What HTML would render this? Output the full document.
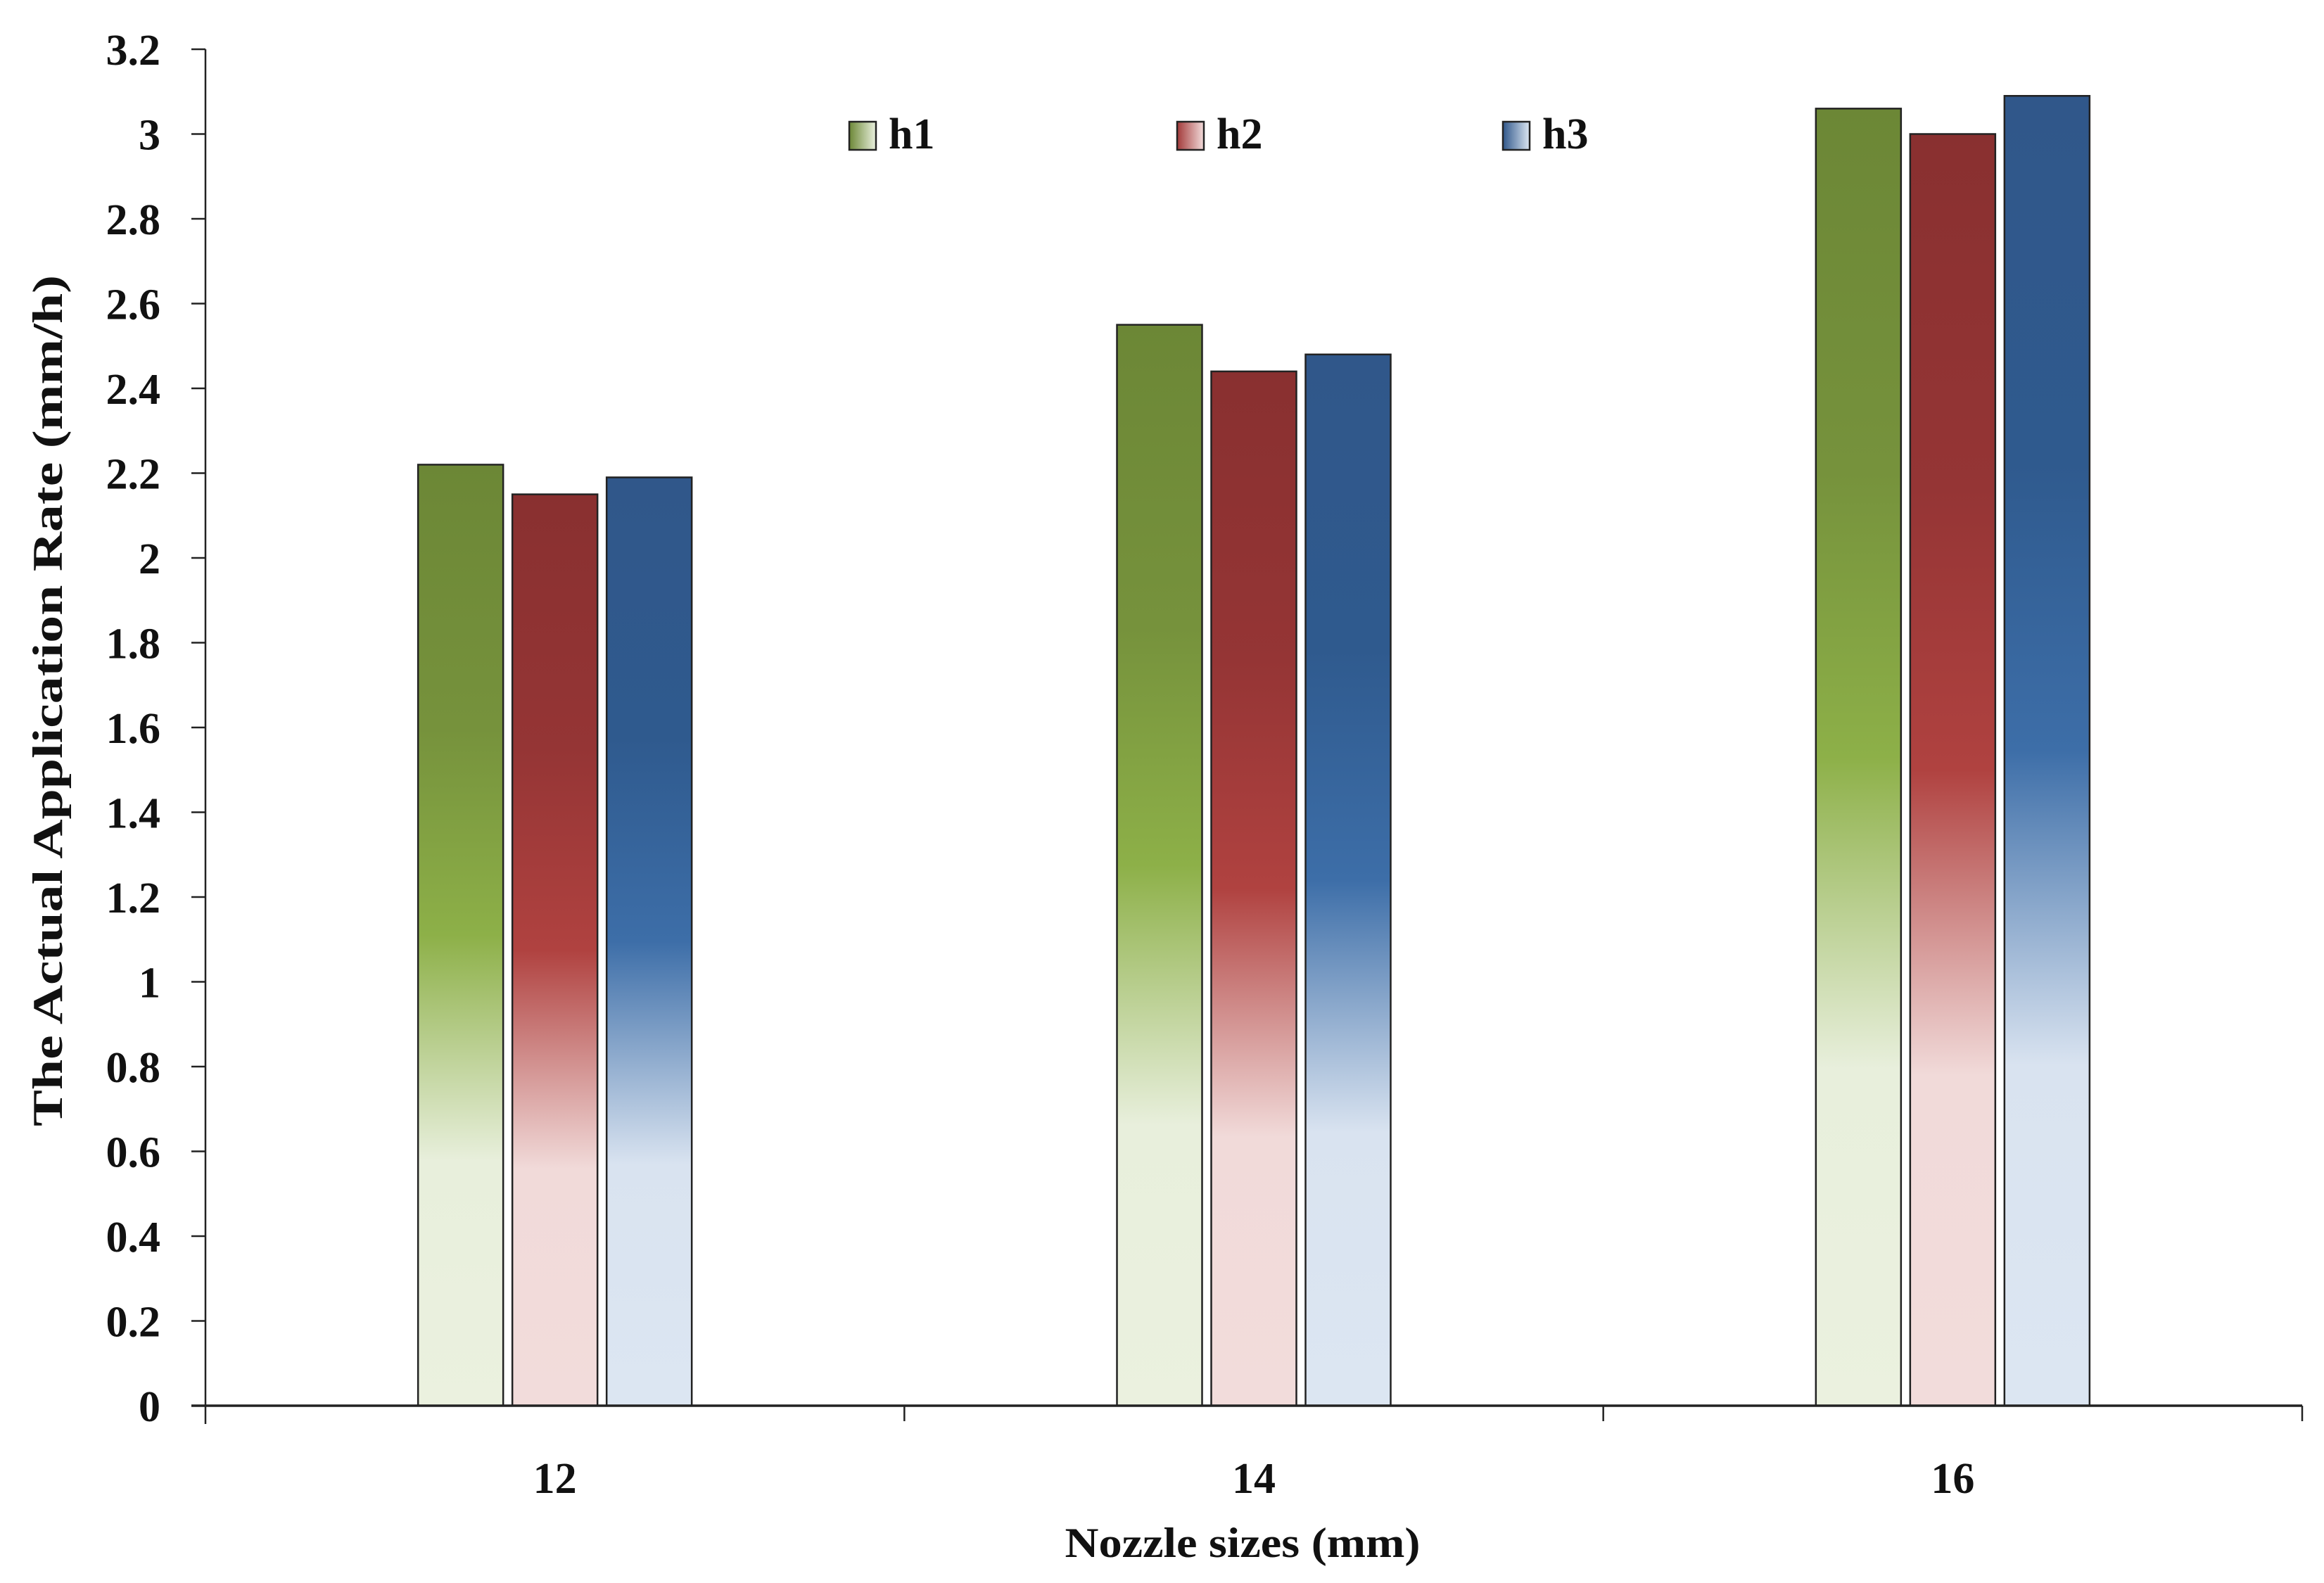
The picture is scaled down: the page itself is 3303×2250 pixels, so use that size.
<!DOCTYPE html>
<html><head><meta charset="utf-8"><style>
html,body{margin:0;padding:0;background:#fff}
svg{display:block}
text{font-family:"Liberation Serif",serif;font-weight:bold;fill:#111}
</style></head><body>
<svg id="chart" width="3303" height="2250" viewBox="0 0 3303 2250" xmlns="http://www.w3.org/2000/svg">
<defs>
<linearGradient id="g-h1" x1="0" y1="0" x2="0" y2="1">
<stop offset="0" stop-color="#6c8736"/><stop offset="0.28" stop-color="#76923c"/><stop offset="0.5" stop-color="#8db048"/><stop offset="0.74" stop-color="#e8efdc"/><stop offset="1" stop-color="#ebf1df"/></linearGradient>
<linearGradient id="g-h2" x1="0" y1="0" x2="0" y2="1">
<stop offset="0" stop-color="#893030"/><stop offset="0.28" stop-color="#953535"/><stop offset="0.5" stop-color="#b04240"/><stop offset="0.74" stop-color="#f1dad9"/><stop offset="1" stop-color="#f2dcdb"/></linearGradient>
<linearGradient id="g-h3" x1="0" y1="0" x2="0" y2="1">
<stop offset="0" stop-color="#30578a"/><stop offset="0.28" stop-color="#2f5a8e"/><stop offset="0.5" stop-color="#3d6ea8"/><stop offset="0.74" stop-color="#d9e3f0"/><stop offset="1" stop-color="#dce6f2"/></linearGradient>
<linearGradient id="lg-h1" x1="0" y1="0" x2="1" y2="0"><stop offset="0" stop-color="#6c8736"/><stop offset="1" stop-color="#eaf1df"/></linearGradient>
<linearGradient id="lg-h2" x1="0" y1="0" x2="1" y2="0"><stop offset="0" stop-color="#a33a3a"/><stop offset="1" stop-color="#f2dcdb"/></linearGradient>
<linearGradient id="lg-h3" x1="0" y1="0" x2="1" y2="0"><stop offset="0" stop-color="#30578a"/><stop offset="1" stop-color="#dce6f2"/></linearGradient>
</defs>
<g id="bars"></g>
<g id="axes"></g>
<text transform="translate(88,996) rotate(-90)" text-anchor="middle" font-size="60" textLength="1210" lengthAdjust="spacingAndGlyphs">The Actual Application Rate (mm/h)</text>
<text x="1766" y="2213" text-anchor="middle" font-size="60" textLength="505" lengthAdjust="spacingAndGlyphs">Nozzle sizes (mm)</text>
<g id="legend"></g>
</svg>
<script>
const categories = ["12", "14", "16"];
const seriesNames = ["h1", "h2", "h3"];
const h1Values = [2.22, 2.55, 3.06];
const h2Values = [2.15, 2.44, 3.00];
const h3Values = [2.19, 2.48, 3.09];
const yTicks = [0, 0.2, 0.4, 0.6, 0.8, 1, 1.2, 1.4, 1.6, 1.8, 2, 2.2, 2.4, 2.6, 2.8, 3, 3.2];
const yTickLabels = ["0","0.2","0.4","0.6","0.8","1","1.2","1.4","1.6","1.8","2","2.2","2.4","2.6","2.8","3","3.2"];

const NS = "http://www.w3.org/2000/svg";
const X0 = 292, X1 = 3272, Y0 = 1998, YTOP = 70, YMAX = 3.2;
const catW = (X1 - X0) / categories.length;
function yScale(v){ return Y0 - (v / YMAX) * (Y0 - YTOP); }
function xCenter(i){ return X0 + catW * (i + 0.5); }
function mk(tag, attrs, parent){ const e = document.createElementNS(NS, tag); for (const k in attrs) e.setAttribute(k, attrs[k]); parent.appendChild(e); return e; }

const barsG = document.getElementById("bars");
const all = [h1Values, h2Values, h3Values];
const barW = 121, step = 134;
all.forEach((vals, s) => {
  vals.forEach((v, i) => {
    const x = xCenter(i) + (s - 1) * step - barW / 2;
    const r = mk("rect", {x: x, y: yScale(v), width: barW, height: Y0 - yScale(v), fill: "url(#g-" + seriesNames[s] + ")", stroke: "#222", "stroke-width": 2.5}, barsG);
    
    
  });
});

const axesG = document.getElementById("axes");
const ya = mk("line", {x1: X0, y1: YTOP, x2: X0, y2: 2024, stroke: "#222", "stroke-width": 2.5}, axesG);


const xa = mk("line", {x1: 272, y1: Y0, x2: X1, y2: Y0, stroke: "#222", "stroke-width": 3.5}, axesG);


yTicks.forEach((t, i) => {
  const y = yScale(t);
  const tk = mk("line", {x1: 272, y1: y, x2: X0, y2: y, stroke: "#222", "stroke-width": 2.5}, axesG);
  
  
  const lb = mk("text", {x: 228, y: y + 22, "text-anchor": "end", "font-size": 62}, axesG);
  lb.textContent = yTickLabels[i];
  
  
});
for (let i = 1; i <= categories.length; i++) {
  const x = X0 + catW * i;
  const tk = mk("line", {x1: x, y1: Y0, x2: x, y2: 2020, stroke: "#222", "stroke-width": 2.5}, axesG);
  
  
}
categories.forEach((c, i) => {
  const lb = mk("text", {x: xCenter(i), y: 2122, "text-anchor": "middle", "font-size": 62}, axesG);
  lb.textContent = c;
  
  
});

const legendG = document.getElementById("legend");
const legendX = [1207, 1673, 2136];
seriesNames.forEach((n, s) => {
  const r = mk("rect", {x: legendX[s], y: 173, width: 38, height: 40, fill: "url(#lg-" + n + ")", stroke: "#222", "stroke-width": 2.5}, legendG);
  
  
  const t = mk("text", {x: legendX[s] + 56, y: 211, "font-size": 62}, legendG);
  t.textContent = n;
  
  
});
</script>
</body></html>
